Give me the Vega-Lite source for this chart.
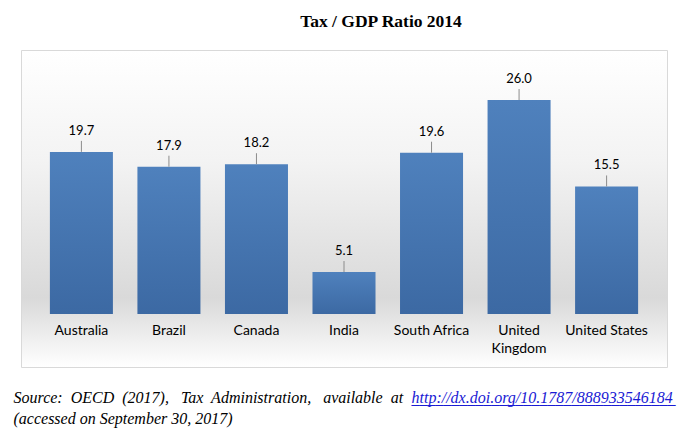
{
  "$schema": "https://vega.github.io/schema/vega-lite/v6.json",
  "width": 646,
  "height": 317,
  "autosize": "none",
  "padding": {"left": 21, "top": 50, "right": 28, "bottom": 69},
  "background": "white",
  "title": {
    "text": "Tax / GDP Ratio 2014",
    "font": "Liberation Serif",
    "fontSize": 17.5,
    "fontWeight": "bold",
    "color": "black",
    "anchor": "middle",
    "dx": 37,
    "offset": 20
  },
  "data": {
    "values": [
      {"country": "Australia", "value": 19.7},
      {"country": "Brazil", "value": 17.9},
      {"country": "Canada", "value": 18.2},
      {"country": "India", "value": 5.1},
      {"country": "South Africa", "value": 19.6},
      {"country": "United Kingdom", "value": 26.0},
      {"country": "United States", "value": 15.5}
    ]
  },
  "encoding": {
    "x": {
      "field": "country",
      "type": "nominal",
      "sort": null,
      "scale": {"paddingInner": 0.28, "paddingOuter": 0.33},
      "axis": {
        "orient": "bottom",
        "offset": -53,
        "domain": false,
        "ticks": false,
        "grid": false,
        "labelAngle": 0,
        "labelPadding": 9,
        "labelFont": "Lato",
        "labelFontSize": 14,
        "labelColor": "black",
        "labelBaseline": "top",
        "labelLineHeight": 18,
        "labelExpr": "datum.label == 'United Kingdom' ? ['United', 'Kingdom'] : datum.label",
        "title": [
          "Source:\u00a0 OECD\u00a0 (2017),\u00a0\u00a0 Tax\u00a0 Administration,\u00a0\u00a0 available\u00a0 at",
          "(accessed on September 30, 2017)"
        ],
        "titleFont": "Liberation Serif",
        "titleFontStyle": "italic",
        "titleFontWeight": "normal",
        "titleFontSize": 16,
        "titleColor": "black",
        "titleX": -8,
        "titleY": 88,
        "titleAlign": "left",
        "titleBaseline": "alphabetic",
        "titleLineHeight": 21
      }
    },
    "y": {
      "field": "value",
      "type": "quantitative",
      "scale": {"domain": [-6.44, 32.08], "nice": false, "zero": false},
      "axis": {
        "orient": "left",
        "labels": false,
        "ticks": false,
        "domain": false,
        "grid": false,
        "title": [
          "http://dx.doi.org/10.1787/888933546184",
          "_________________________________"
        ],
        "titleFont": "Liberation Serif",
        "titleFontStyle": "italic",
        "titleFontWeight": "normal",
        "titleFontSize": 16,
        "titleColor": "#1a1ad4",
        "titleAngle": 0,
        "titleX": 390,
        "titleY": 352,
        "titleAlign": "left",
        "titleBaseline": "alphabetic",
        "titleLineHeight": 1
      }
    }
  },
  "layer": [
    {
      "mark": {
        "type": "bar",
        "color": {
          "gradient": "linear",
          "x1": 0, "y1": 0, "x2": 0, "y2": 1,
          "stops": [
            {"offset": 0, "color": "#4f81bd"},
            {"offset": 1, "color": "#3c69a3"}
          ]
        }
      },
      "encoding": {"y2": {"datum": 0}}
    },
    {
      "mark": {"type": "rule", "color": "#8c8c8c", "strokeWidth": 1, "y2Offset": -11},
      "encoding": {"y2": {"field": "value"}}
    },
    {
      "mark": {
        "type": "text",
        "font": "Lato",
        "fontSize": 13,
        "color": "black",
        "baseline": "middle",
        "dy": -21
      },
      "encoding": {"text": {"field": "value", "type": "quantitative", "format": ".1f"}}
    }
  ],
  "config": {
    "view": {
      "stroke": "#d9d9d9",
      "strokeWidth": 1,
      "fill": {
        "gradient": "linear",
        "x1": 0, "y1": 0, "x2": 0, "y2": 1,
        "stops": [
          {"offset": 0, "color": "#ffffff"},
          {"offset": 0.35, "color": "#f3f3f3"},
          {"offset": 0.78, "color": "#d9d9d9"},
          {"offset": 0.84, "color": "#e3e3e3"},
          {"offset": 1, "color": "#ffffff"}
        ]
      }
    }
  }
}
